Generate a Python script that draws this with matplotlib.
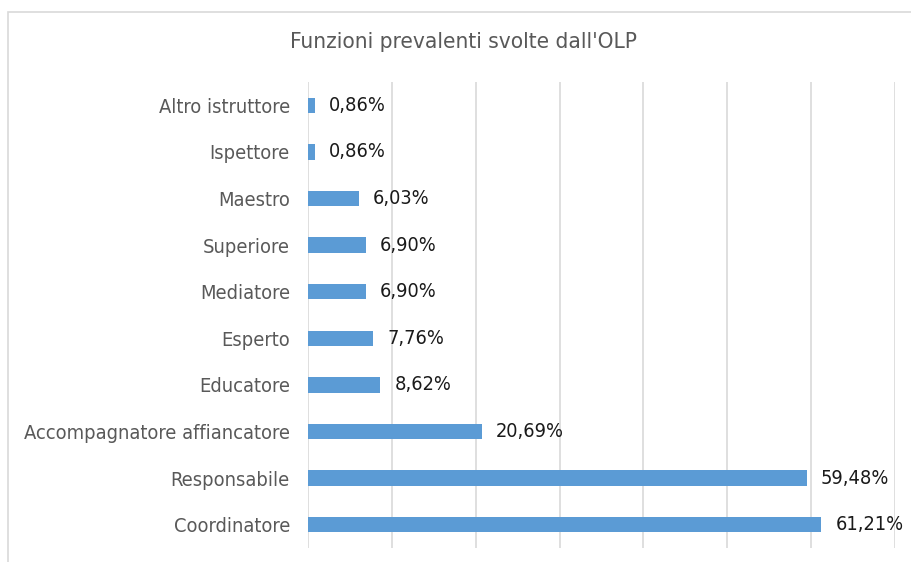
import matplotlib
matplotlib.use("Agg")
import matplotlib.pyplot as plt
from matplotlib.patches import Rectangle
from matplotlib import font_manager as fm

categories = ["Altro istruttore", "Ispettore", "Maestro", "Superiore", "Mediatore",
              "Esperto", "Educatore", "Accompagnatore affiancatore", "Responsabile", "Coordinatore"]
values = [0.86, 0.86, 6.03, 6.90, 6.90, 7.76, 8.62, 20.69, 59.48, 61.21]
labels = ["0,86%", "0,86%", "6,03%", "6,90%", "6,90%", "7,76%", "8,62%", "20,69%", "59,48%", "61,21%"]
title = "Funzioni prevalenti svolte dall'OLP"

cond = [f.fname for f in fm.fontManager.ttflist if f.name == "DejaVu Sans" and "Condensed" in f.fname]
has_cond = any(("Condensed" in p and "Bold" not in p and "Oblique" not in p) for p in cond)
scale = 1.1 if has_cond else 1.0
stretch = "condensed" if has_cond else "normal"

W, H = 911, 562
fig = plt.figure(figsize=(W / 100, H / 100), dpi=100)
fig.patch.set_facecolor("white")

fig.patches.append(Rectangle((8 / W, -0.1), 1.2, 1.1 - 12 / H, transform=fig.transFigure,
                             fill=False, edgecolor="#D9D9D9", linewidth=1.2))

ax = fig.add_axes([308 / W, 1 - 548 / H, (895 - 308) / W, (548 - 82) / H])
y = list(range(len(categories)))
ax.barh(y, values, height=0.33, color="#5B9BD5", zorder=3)
ax.set_xlim(0, 70)
ax.set_ylim(len(categories) - 0.5, -0.5)
ax.set_yticks(y)
ax.set_yticklabels(categories, fontsize=13.1 * scale, color="#595959", fontstretch=stretch)
ax.set_xticks(range(0, 71, 10))
ax.xaxis.grid(True, color="#D9D9D9", linewidth=1.2, zorder=0)
ax.tick_params(axis="x", length=0, labelbottom=False)
ax.tick_params(axis="y", length=0, pad=13)
for s in ax.spines.values():
    s.set_visible(False)

for yi, v, lab in zip(y, values, labels):
    ax.annotate(lab, (v, yi), xytext=(14, 0), textcoords="offset pixels",
                va="center", ha="left", fontsize=13 * scale, color="#1a1a1a", fontstretch=stretch)

fig.text(463 / W, 1 - 42 / H, title, ha="center", va="center", fontsize=14.7 * scale,
         color="#595959", fontstretch=stretch)

fig.savefig("out.png", dpi=100)
